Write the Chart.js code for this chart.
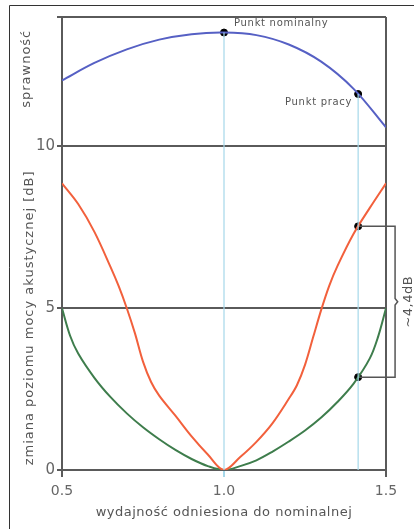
<!DOCTYPE html>
<html>
<head>
<meta charset="utf-8">
<script src="https://cdn.jsdelivr.net/npm/chart.js@4.4.0/dist/chart.umd.min.js"></script>
<style>
  html, body { margin: 0; padding: 0; background: #fff; }
  #wrap { width: 414px; height: 529px; position: relative; }
</style>
</head>
<body>
<div id="wrap"><canvas id="chart"></canvas></div>
<script>
// dane
const xTicks = [0.5, 1.0, 1.5];
const yTicks = [0, 5, 10];
const yMax = 14;

// sprawnosc (gorna czesc)
const effX = [0.5, 0.6, 0.7, 0.8, 0.9, 1.0, 1.1, 1.2, 1.3, 1.4, 1.5];
const effY = [12.04, 12.58, 13.0, 13.3, 13.47, 13.52, 13.44, 13.15, 12.62, 11.78, 10.59];

// zmiana poziomu mocy - krzywa czerwona
const redX = [0.5, 0.55, 0.6, 0.65, 0.675, 0.7, 0.725, 0.75, 0.775, 0.8, 0.85, 0.9, 0.95, 1.0,
  1.05, 1.1, 1.15, 1.2, 1.225, 1.25, 1.275, 1.3, 1.325, 1.35, 1.4, 1.45, 1.5];
const redY = [8.86, 8.22, 7.36, 6.27, 5.68, 5.0, 4.23, 3.35, 2.72, 2.3, 1.68, 1.04, 0.48, 0,
  0.4, 0.87, 1.45, 2.2, 2.62, 3.25, 4.1, 4.95, 5.7, 6.3, 7.3, 8.1, 8.86];

// zmiana poziomu mocy - krzywa zielona
const greenX = [0.5, 0.525, 0.55, 0.6, 0.65, 0.7, 0.75, 0.8, 0.85, 0.9, 0.95, 1.0,
  1.05, 1.1, 1.15, 1.2, 1.25, 1.3, 1.35, 1.4, 1.45, 1.475, 1.5];
const greenY = [5.0, 4.15, 3.6, 2.85, 2.25, 1.75, 1.32, 0.95, 0.62, 0.34, 0.12, 0,
  0.12, 0.3, 0.57, 0.88, 1.22, 1.62, 2.1, 2.67, 3.45, 4.1, 5.0];

// punkty: nominalny, pracy, oraz dwa punkty na krzywych
const markX = [1.0, 1.414, 1.414, 1.414];
const markY = [13.52, 11.62, 7.53, 2.87];

// pionowe linie pomocnicze
const guideX = [1.0, 1.414];
const guideTop = [13.52, 11.62];

// klamra ~4,4dB
const braceX = [1.414, 1.528, 1.528, 1.536, 1.528, 1.528, 1.414];
const braceY = [7.53, 7.53, 5.3, 5.2, 5.1, 2.87, 2.87];

const toPts = (xs, ys) => xs.map((x, i) => ({ x, y: ys[i] }));

const GRID = '#5a5a5a';
const GUIDE = '#a6d8ea';
const TEXT = '#555';

const lineDs = (data, color) => ({
  data,
  borderColor: color,
  borderWidth: 2,
  pointRadius: 0,
  tension: 0.35,
  fill: false,
});

const guideSets = guideX.map((gx, i) => ({
  data: [{ x: gx, y: guideTop[i] }, { x: gx, y: 0 }],
  borderColor: GUIDE,
  borderWidth: 1.2,
  pointRadius: 0,
  fill: false,
}));

const annot = {
  id: 'annot',
  beforeDraw(chart) {
    const ctx = chart.ctx;
    ctx.save();
    ctx.strokeStyle = '#333';
    ctx.lineWidth = 1;
    ctx.beginPath();
    ctx.moveTo(9.5, 529);
    ctx.lineTo(9.5, 5.5);
    ctx.lineTo(414, 5.5);
    ctx.stroke();
    ctx.restore();
  },
  afterDraw(chart) {
    const { ctx, scales: { x, y } } = chart;
    ctx.save();
    ctx.fillStyle = TEXT;
    ctx.textBaseline = 'middle';

    // podpisy punktow
    ctx.font = '10px "DejaVu Sans"';
    ctx.letterSpacing = '0.7px';
    ctx.textAlign = 'left';
    ctx.fillText('Punkt nominalny', x.getPixelForValue(1.0) + 10, y.getPixelForValue(13.52) - 9);
    ctx.textAlign = 'right';
    ctx.fillText('Punkt pracy', x.getPixelForValue(1.414) - 6, y.getPixelForValue(11.62) + 8);

    // tytul osi x
    ctx.font = '13px "DejaVu Sans"';
    ctx.letterSpacing = '0.5px';
    ctx.textAlign = 'center';
    ctx.fillText('wydajność odniesiona do nominalnej', x.getPixelForValue(1.0), 513);

    // tytuly osi y
    const rot = (txt, px, py) => {
      ctx.save();
      ctx.translate(px, py);
      ctx.rotate(-Math.PI / 2);
      ctx.fillText(txt, 0, 0);
      ctx.restore();
    };
    ctx.letterSpacing = '1px';
    rot('sprawność', 27, y.getPixelForValue(12.4));
    rot('zmiana poziomu mocy akustycznej [dB]', 30, y.getPixelForValue(4.7));
    ctx.letterSpacing = '0.5px';
    rot('~4,4dB', x.getPixelForValue(1.528) + 14, y.getPixelForValue(5.2));
    ctx.restore();
  },
};

new Chart(document.getElementById('chart'), {
  type: 'line',
  data: {
    datasets: [
      ...guideSets,
      lineDs(toPts(effX, effY), '#5660c4'),
      lineDs(toPts(redX, redY), '#f2603c'),
      lineDs(toPts(greenX, greenY), '#3e7d4c'),
      {
        data: toPts(braceX, braceY),
        borderColor: '#555',
        borderWidth: 1.5,
        pointRadius: 0,
        fill: false,
        clip: false,
      },
      {
        type: 'scatter',
        data: toPts(markX, markY),
        backgroundColor: '#000',
        borderColor: '#000',
        pointRadius: 3.5,
      },
    ],
  },
  options: {
    responsive: true,
    maintainAspectRatio: false,
    animation: false,
    layout: { padding: { top: 17, right: 28, left: 0, bottom: 0 } },
    plugins: { legend: { display: false }, tooltip: { enabled: false } },
    scales: {
      x: {
        type: 'linear',
        min: 0.5,
        max: 1.5,
        afterBuildTicks: (s) => { s.ticks = xTicks.map((v) => ({ value: v })); },
        afterFit: (s) => { s.height = 59; },
        ticks: {
          callback: (v) => Number(v).toFixed(1),
          color: '#666',
          font: { family: 'DejaVu Sans', size: 14 },
          padding: 6,
          maxRotation: 0,
        },
        grid: {
          color: (c) => (c.tick && c.tick.value === 1 ? 'rgba(0,0,0,0)' : GRID),
          tickColor: (c) => (c.tick && c.tick.value === 1 ? GUIDE : GRID),
          lineWidth: 2,
          tickLength: 7,
        },
        border: { display: false },
      },
      y: {
        min: 0,
        max: yMax,
        afterBuildTicks: (s) => { s.ticks = [...yTicks, yMax].map((v) => ({ value: v })); },
        afterFit: (s) => { s.width = 62; },
        ticks: {
          callback: (v) => (yTicks.includes(v) ? String(v) : ''),
          color: '#666',
          font: { family: 'DejaVu Sans', size: 15 },
          padding: 2,
        },
        grid: { color: GRID, lineWidth: 2, tickLength: 5 },
        border: { display: false },
      },
    },
  },
  plugins: [annot],
});
</script>
</body>
</html>
